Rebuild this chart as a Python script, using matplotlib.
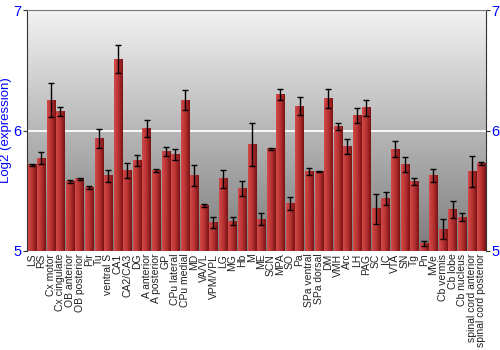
import numpy as np
import matplotlib
matplotlib.use("Agg")
import matplotlib.pyplot as plt
from matplotlib.colors import LinearSegmentedColormap

plt.rcParams['font.family'] = ['Liberation Sans', 'DejaVu Sans']

categories = ["LS", "RS", "Cx motor", "Cx cingulate", "OB anterior", "OB posterior", "Pir", "Tu",
              "ventral S", "CA1", "CA2/CA3", "DG", "A anterior", "A posterior", "GP", "CPu lateral",
              "CPu medial", "MD", "VA/VL", "VPM/VPL", "LG", "MG", "Hb", "M", "ME", "SCN", "MPA",
              "SO", "Pa", "SPa ventral", "SPa dorsal", "DM", "VMH", "Arc", "LH", "PAG", "SC", "IC",
              "VTA", "SN", "Tg", "Pn", "MVe", "Cb vermis", "Cb lobe", "Cb nucleus",
              "spinal cord anterior", "spinal cord posterior"]
values = [5.715, 5.77, 6.254, 6.157, 5.577, 5.60, 5.528, 5.934,
          5.624, 6.594, 5.668, 5.75, 6.017, 5.668, 5.826, 5.804,
          6.254, 5.627, 5.378, 5.237, 5.599, 5.246, 5.517, 5.884, 5.263, 5.848, 6.298,
          5.395, 6.204, 5.66, 5.66, 6.265, 6.033, 5.87, 6.124, 6.19, 5.351, 5.436,
          5.845, 5.718, 5.58, 5.061, 5.627, 5.182, 5.343, 5.282,
          5.66, 5.724]
errors = [0.01, 0.05, 0.14, 0.037, 0.01, 0.01, 0.01, 0.08,
          0.05, 0.12, 0.065, 0.047, 0.072, 0.01, 0.035, 0.045,
          0.08, 0.09, 0.01, 0.045, 0.077, 0.033, 0.064, 0.178, 0.05, 0.01, 0.044,
          0.052, 0.073, 0.032, 0.005, 0.08, 0.028, 0.062, 0.065, 0.066, 0.124, 0.052,
          0.066, 0.064, 0.03, 0.02, 0.054, 0.08, 0.068, 0.035,
          0.13, 0.014]
yticks = [5, 6, 7]

fig = plt.figure(figsize=(5, 3.5), dpi=100)
ax = fig.add_axes([0.054, 0.283, 0.918, 0.688])

# background gradient
bg = LinearSegmentedColormap.from_list("bg", ["#7c7c7c", "#f2f2f2"])
grad = np.linspace(0, 1, 256).reshape(-1, 1)
ax.imshow(grad, cmap=bg, aspect='auto', extent=[0, 1, 0, 1], origin='lower',
          transform=ax.transAxes, zorder=0)

x = np.arange(len(categories))
bars = ax.bar(x, [v - 5 for v in values], bottom=5, width=0.86, color='none',
              edgecolor='none', zorder=2)
barcm = LinearSegmentedColormap.from_list("bar", ["#d24a4a", "#b83232", "#7a1212"])
hgrad = np.linspace(0, 1, 64).reshape(1, -1)
for b in bars:
    x0, w, y0, h = b.get_x(), b.get_width(), b.get_y(), b.get_height()
    ax.imshow(hgrad, cmap=barcm, aspect='auto', extent=[x0, x0 + w, y0, y0 + h],
              origin='lower', zorder=2, interpolation='bilinear')

ax.errorbar(x, values, yerr=errors, fmt='none', ecolor='black', elinewidth=1,
            capsize=2, capthick=1, zorder=3)

ax.axhline(6, color='white', lw=1.3, zorder=1)

ax.set_xlim(-0.5, len(categories) - 0.5)
ax.set_ylim(5, 7)
ax.set_yticks(yticks)
ax.set_yticklabels([str(t) for t in yticks], color='blue', fontsize=10.5)
ax.tick_params(axis='y', which='both', left=True, right=True, labelright=True,
               length=3, color='#333333', pad=1)
ax.set_xticks(x)
ax.set_xticklabels(categories, rotation=90, fontsize=7.5, color='#222222')
ax.tick_params(axis='x', length=0, pad=2)
ax.set_ylabel("Log2 (expression)", color='blue', fontsize=9.5, labelpad=1)

ax.spines['top'].set_color('#777777')
ax.spines['left'].set_color('#333333')
ax.spines['right'].set_color('#333333')
ax.spines['bottom'].set_visible(False)

fig.savefig("out.png", dpi=100)
